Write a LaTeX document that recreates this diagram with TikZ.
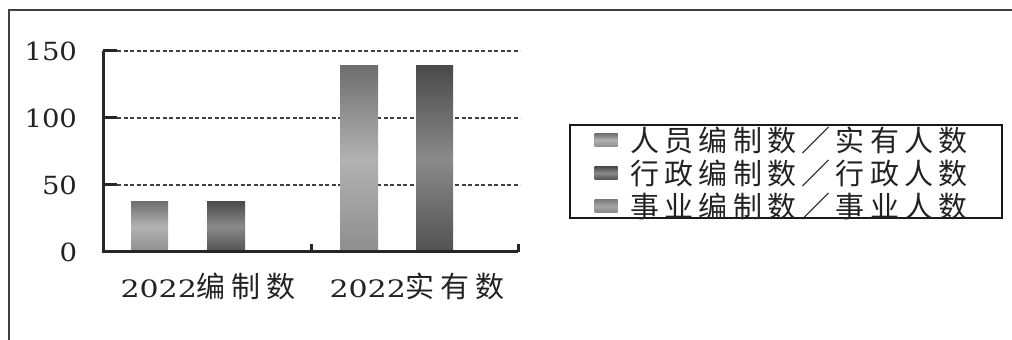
\documentclass[tikz,border=0pt]{standalone}
\usepackage{fontspec}
\setmainfont[FakeStretch=1.1]{DejaVu Serif}
\newfontfamily\catdigits[FakeStretch=1.25]{DejaVu Serif}
\newfontfamily\cjk[LetterSpace=18]{Noto Sans CJK SC}
\newfontfamily\cjkwide[LetterSpace=20]{Noto Sans CJK SC}
\usetikzlibrary{positioning}
\definecolor{sAtop}{HTML}{6E6E6E}
\definecolor{sAmid}{HTML}{B2B2B2}
\definecolor{sAbot}{HTML}{8E8E8E}
\definecolor{sBtop}{HTML}{4A4A4A}
\definecolor{sBmid}{HTML}{8A8A8A}
\definecolor{sBbot}{HTML}{525252}
\definecolor{sCtop}{HTML}{7C7C7C}
\definecolor{sCmid}{HTML}{A4A4A4}
\definecolor{sCbot}{HTML}{8A8A8A}
\definecolor{ink}{HTML}{222222}
\tikzset{
  every node/.style={text=ink,inner sep=0pt,outer sep=0pt},
  framebox/.style={line width=1.6pt,black!75},
  axisline/.style={line width=3pt,black!85},
  gridline/.style={dash pattern=on 4pt off 2.5pt,line width=1.2pt,black!75},
  serA/.style={top color=sAtop,bottom color=sAbot,middle color=sAmid},
  serB/.style={top color=sBtop,bottom color=sBbot,middle color=sBmid},
  serC/.style={top color=sCtop,bottom color=sCbot,middle color=sCmid},
  ticklabel/.style={anchor=east,font=\fontsize{25}{27}\selectfont},
  catlabel/.style={font=\catdigits\fontsize{24}{28}\selectfont},
  legmark/.style={rectangle,minimum width=23pt,minimum height=13pt},
  legtext/.style={anchor=west,font=\cjk\fontsize{29}{31}\selectfont},
}

\begin{document}
\begin{tikzpicture}[x=1pt,y=1pt]
  \useasboundingbox (0,0) rectangle (1012,340);
  % frame, cut off at right and bottom
  \draw[framebox] (9,0) -- (9,330) -- (1012,330);

  \begin{scope}[shift={(103,88)},y=1.34pt]
    % grid lines and ticks
    \foreach \v in {50,100,150} {
      \draw[gridline] (14,\v) -- (417,\v);
      \draw[axisline] (0,\v) -- (14,\v);
    }
    \foreach \v in {0,50,100,150}
      \node[ticklabel] (t\v) at (-26,\v) {\v};
    % bars
    \shade[serA] (28,0) rectangle (65,38);
    \shade[serB] (104,0) rectangle (142,38);
    \shade[serA] (237,0) rectangle (275,139);
    \shade[serB] (313,0) rectangle (350,139);
    % axes
    \draw[axisline] (0,150) -- (0,0) -- (415,0);
    \draw[axisline] (208,0) -- ++(0pt,8pt);
    \draw[axisline] (415,0) -- ++(0pt,8pt);
  \end{scope}

  \node[catlabel] (c1) at (208,54) {2022{\cjkwide\fontsize{29}{31}\selectfont 编制数}};
  \node[catlabel] (c2) at (417,54) {2022{\cjkwide\fontsize{29}{31}\selectfont 实有数}};

  % legend
  \node[draw,line width=1.6pt,black!90,minimum width=432pt,minimum height=93pt]
    (legend) at (786,168.5) {};
  \node[legmark,serA] (m1) at (606,200) {};
  \node[legmark,serB,below=20pt of m1] (m2) {};
  \node[legmark,serC,below=20pt of m2] (m3) {};
  \node[legtext,right=13pt of m1] (l1) {人员编制数／实有人数};
  \node[legtext,right=13pt of m2] (l2) {行政编制数／行政人数};
  \node[legtext,right=13pt of m3] (l3) {事业编制数／事业人数};
\end{tikzpicture}
\end{document}
